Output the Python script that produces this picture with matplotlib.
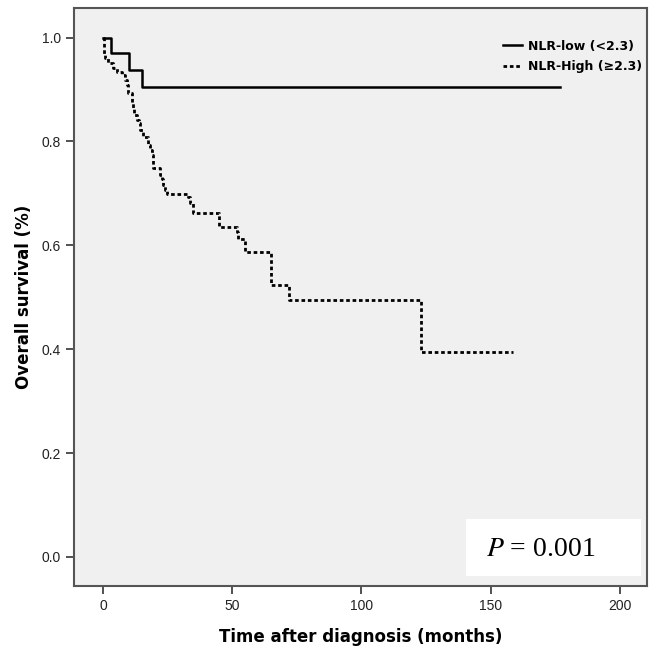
import matplotlib.pyplot as plt
from matplotlib.patches import Rectangle

# Kaplan-Meier step data (months, survival)
low_t = [0, 3.0, 10.2, 15.2, 176.9]
low_s = [1.0, 0.970, 0.938, 0.904, 0.904]

high_t = [0, 0.3, 0.8, 2.1, 4.0, 5.3, 7.2, 8.5, 9.2, 9.8, 11.1, 11.7, 12.0, 13.0,
          14.0, 14.3, 15.4, 17.5, 18.2, 18.8, 19.2, 22.1, 22.7, 23.3, 24.0, 24.7,
          33.0, 33.6, 35.0, 44.9, 51.7, 52.3, 54.9, 64.9, 72.1, 122.9, 158.8]
high_s = [1.0, 0.967, 0.960, 0.951, 0.941, 0.934, 0.928, 0.918, 0.909, 0.893, 0.874,
          0.864, 0.851, 0.841, 0.835, 0.822, 0.809, 0.793, 0.784, 0.774, 0.748, 0.735,
          0.727, 0.716, 0.707, 0.699, 0.694, 0.681, 0.662, 0.636, 0.626, 0.613, 0.588,
          0.524, 0.495, 0.394, 0.394]

labels = ["NLR-low (<2.3)", "NLR-High (\u22652.3)"]
x_ticks = [0, 50, 100, 150, 200]
y_ticks = [0.0, 0.2, 0.4, 0.6, 0.8, 1.0]
p_text = "$\\it{P}$ = 0.001"

fig = plt.figure(figsize=(6.56, 6.53), dpi=100)
ax = fig.add_axes([0.1128, 0.1026, 0.8735, 0.8851])
ax.set_facecolor('#f0f0f0')

ax.plot(low_t, low_s, drawstyle='steps-post', color='black', lw=1.8, label=labels[0])
ax.plot(high_t, high_s, drawstyle='steps-post', color='black', lw=2.0,
        linestyle=(0, (1.3, 1.0)), label=labels[1])

ax.set_xlim(-11.2, 210.5)
ax.set_ylim(-0.056, 1.057)
ax.set_xticks(x_ticks)
ax.set_yticks(y_ticks)
ax.set_yticklabels([f"{v:.1f}" for v in y_ticks])
ax.tick_params(direction='out', length=6, width=1.2, color='#333333',
               labelsize=10, labelcolor='#222222')
for lab in ax.get_xticklabels() + ax.get_yticklabels():
    lab.set_family('Liberation Sans')
for sp in ax.spines.values():
    sp.set_color('#555555')
    sp.set_linewidth(1.5)

ax.set_xlabel("Time after diagnosis (months)", fontsize=12, fontweight='bold', labelpad=11)
ax.set_ylabel("Overall survival (%)", fontsize=12, fontweight='bold', labelpad=6)

leg = ax.legend(loc='upper right', bbox_to_anchor=(1.005, 0.958), frameon=False,
                prop={'size': 9, 'weight': 'bold'}, handlelength=1.5,
                handletextpad=0.5, labelspacing=0.6, borderaxespad=0.2)

ax.add_patch(Rectangle((0.684, 0.017), 0.306, 0.099, transform=ax.transAxes,
                       facecolor='white', edgecolor='none', zorder=3))
ax.text(0.815, 0.063, p_text, transform=ax.transAxes, ha='center', va='center',
        fontsize=20, family='Liberation Serif', zorder=4,
        math_fontfamily='stix')

fig.savefig('out.png', dpi=100)
